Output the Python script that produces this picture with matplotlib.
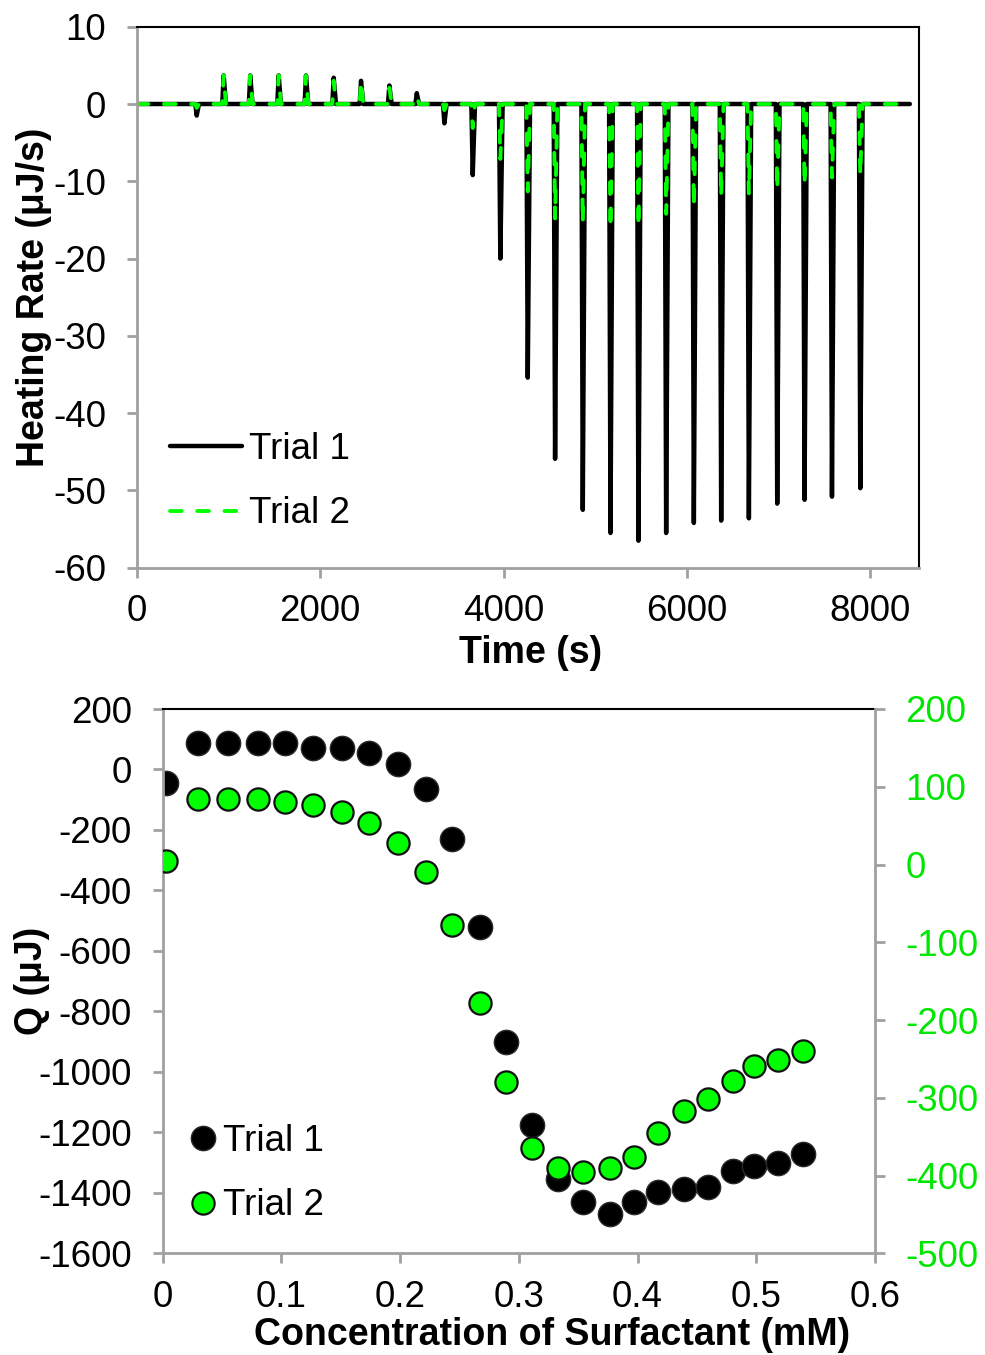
import matplotlib
matplotlib.use("Agg")
import matplotlib.pyplot as plt
from matplotlib.lines import Line2D

plt.rcParams['font.family'] = ['Liberation Sans', 'DejaVu Sans']
plt.rcParams['axes.unicode_minus'] = False

# ---- raw thermogram (top panel) ----
# injection times (s) and the peak heating rate of each injection (uJ/s)
inj_time = [644, 938, 1228, 1538, 1836, 2138, 2436, 2745, 3044, 3345, 3654, 3955, 4254,
            4552, 4854, 5156, 5461, 5763, 6065, 6363, 6665, 6974, 7272, 7571, 7880]
peak_trial1 = [-1.5, 3.7, 3.7, 3.7, 3.7, 3.4, 3.0, 2.4, 1.4, -2.5, -9.2, -20.0, -35.4,
               -45.9, -52.5, -55.5, -56.5, -55.5, -54.2, -53.9, -53.6, -51.7, -51.2, -50.8, -49.7]
peak_trial2 = [-0.5, 3.7, 3.7, 3.7, 3.7, 3.0, 3.0, 2.1, 1.0, -0.8, -3.1, -7.1, -11.3,
               -14.8, -15.4, -16.1, -15.9, -14.2, -13.3, -12.0, -11.6, -11.1, -10.5, -9.5, -9.2]
run_end = 8430

# ---- integrated heats (bottom panel) ----
conc = [0.003, 0.030, 0.055, 0.080, 0.103, 0.127, 0.151, 0.174, 0.198, 0.222, 0.244, 0.267,
        0.289, 0.311, 0.333, 0.354, 0.377, 0.397, 0.417, 0.439, 0.459, 0.480, 0.498, 0.518, 0.539]
q_trial1 = [-44, 86, 86, 86, 86, 70, 70, 53, 17, -63, -229, -521, -902, -1177, -1353,
            -1432, -1469, -1432, -1396, -1389, -1380, -1329, -1310, -1300, -1273]
q_trial2 = [5, 84, 84, 84, 81, 77, 67, 53, 28, -9, -78, -178, -280, -365, -390,
            -396, -390, -376, -345, -317, -301, -279, -259, -252, -240]

time_ticks = [0, 2000, 4000, 6000, 8000]
rate_ticks = [-60, -50, -40, -30, -20, -10, 0, 10]
conc_ticks = [0, 0.1, 0.2, 0.3, 0.4, 0.5, 0.6]
conc_labels = ['0', '0.1', '0.2', '0.3', '0.4', '0.5', '0.6']
q_ticks = list(range(-1600, 201, 200))
q2_ticks = list(range(-500, 201, 100))

GRAY = '#a0a0a0'
GREEN = '#00ff00'
GREEN_TXT = '#00e600'
FS = 26.5
LFS = 27


def trace(times, peaks):
    # baseline with a sharp spike at every injection
    t, y = [0], [0]
    for ti, p in zip(times, peaks):
        t += [ti - 5, ti + 10, ti + 35]
        y += [0, p, 0]
    t.append(run_end)
    y.append(0)
    return t, y


def style_axes(ax, right_black=True):
    for s in ['left', 'bottom']:
        ax.spines[s].set_color(GRAY)
        ax.spines[s].set_linewidth(2)
    ax.spines['top'].set_color('black')
    ax.spines['top'].set_linewidth(1.5)
    if right_black:
        ax.spines['right'].set_color('black')
        ax.spines['right'].set_linewidth(1.5)
    ax.tick_params(direction='out', length=7, width=2, color=GRAY, labelsize=FS)
    ax.tick_params(axis='y', pad=15)
    ax.tick_params(axis='x', pad=12)


fig = plt.figure(figsize=(9.85, 13.55), dpi=100)
W, H = 985.0, 1355.0

# top panel
ax1 = fig.add_axes([136.7 / W, 1 - 567.8 / H, (919 - 136.7) / W, (567.8 - 26.7) / H])
t1, y1 = trace(inj_time, peak_trial1)
t2, y2 = trace(inj_time, peak_trial2)
ax1.plot(t1, y1, color='black', lw=3.2, solid_capstyle='round', solid_joinstyle='round',
         label='Trial 1')
ax1.plot(t2, y2, color=GREEN, lw=2.8, dashes=(3, 4), dash_capstyle='round',
         label='Trial 2')
ax1.set_xlim(0, 8530)
ax1.set_ylim(-60, 10)
ax1.set_xticks(time_ticks)
ax1.set_yticks(rate_ticks)
style_axes(ax1)
ax1.set_xlabel('Time (s)', fontsize=LFS, fontweight='bold')
ax1.xaxis.set_label_coords(0.503, -0.125)
ax1.set_ylabel('Heating Rate (μJ/s)', fontsize=LFS, fontweight='bold')
ax1.yaxis.set_label_coords(-0.108, 0.5)
ax1.legend(loc='upper left', bbox_to_anchor=(170 / W, 1 - 432 / H),
           bbox_transform=fig.transFigure, frameon=False, fontsize=FS,
           handlelength=1.95, handletextpad=0.2, labelspacing=0.8,
           borderpad=0, borderaxespad=0)

# bottom panel
ax2 = fig.add_axes([162.5 / W, 1 - 1253.3 / H, (875 - 162.5) / W, (1253.3 - 709) / H])
ax2r = ax2.twinx()
ax2.plot(conc, q_trial1, 'o', ms=17.5, mfc='black', mec='#2a2a2a', mew=1.0, ls='none')
ax2r.plot(conc, q_trial2, 'o', ms=16, mfc=GREEN, mec='#111111', mew=1.6, ls='none')
ax2.set_xlim(0, 0.6)
ax2.set_ylim(-1600, 200)
ax2r.set_ylim(-500, 200)
ax2.set_xticks(conc_ticks, conc_labels)
ax2.set_yticks(q_ticks)
ax2r.set_yticks(q2_ticks)
style_axes(ax2, right_black=False)
for s in ['left', 'bottom', 'top']:
    ax2r.spines[s].set_visible(False)
ax2r.spines['right'].set_color(GRAY)
ax2r.spines['right'].set_linewidth(2)
ax2r.tick_params(direction='out', length=7, width=2, color=GRAY, labelsize=FS,
                 labelcolor=GREEN_TXT, pad=15)
ax2.spines['right'].set_visible(False)
ax2.set_xlabel('Concentration of Surfactant (mM)', fontsize=LFS, fontweight='bold')
ax2.xaxis.set_label_coords(0.547, -0.117)
ax2.set_ylabel('Q (μJ)', fontsize=LFS, fontweight='bold')
ax2.yaxis.set_label_coords(-0.158, 0.5)

h1 = Line2D([], [], marker='o', ls='none', ms=17.5, mfc='black', mec='#2a2a2a', mew=1.0)
h2 = Line2D([], [], marker='o', ls='none', ms=16, mfc=GREEN, mec='#111111', mew=1.6)
ax2r.legend([h1, h2], ['Trial 1', 'Trial 2'], loc='upper left',
            bbox_to_anchor=(190 / W, 1 - 1124 / H), bbox_transform=fig.transFigure,
            frameon=False, fontsize=FS, handlelength=0.7, handletextpad=0.2,
            labelspacing=0.8, borderpad=0, borderaxespad=0)

fig.savefig('out.png', dpi=100)
